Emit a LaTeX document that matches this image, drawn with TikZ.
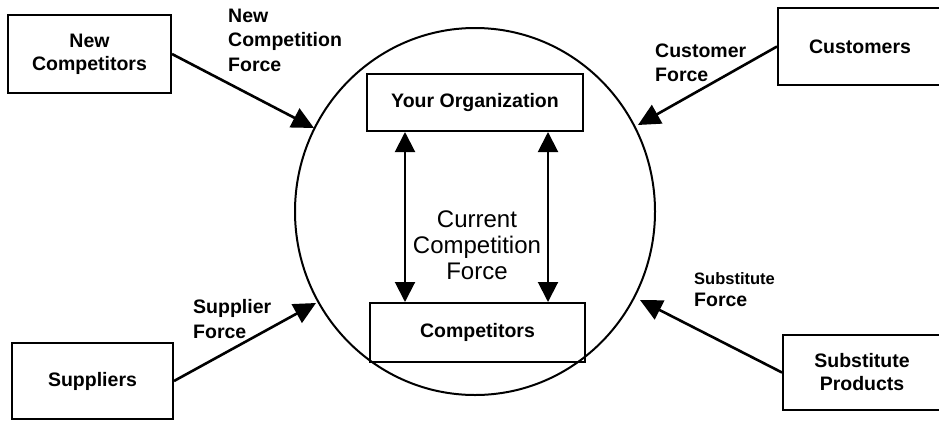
\documentclass[tikz,border=0pt]{standalone}
\usepackage{fontspec}
\setmainfont{Liberation Sans}
\usetikzlibrary{arrows.meta,shapes.geometric}
\begin{document}
\begin{tikzpicture}[x=1pt,y=-1pt,
  boxnode/.style={draw,line width=2pt,rectangle,align=center,inner sep=0pt,
    font=\bfseries\fontsize{19.5}{23}\selectfont},
  lbl/.style={anchor=west,align=left,inner sep=0pt,
    font=\bfseries\fontsize{19.5}{24.5}\selectfont},
  force/.style={line width=2.6pt,-{Triangle[length=22pt,width=21pt]}},
  biarrow/.style={line width=2pt,{Triangle[length=20pt,width=20pt]}-{Triangle[length=20pt,width=20pt]}}]
\useasboundingbox (0,0) rectangle (939,421);
\clip (0,0) rectangle (939,421);
% ring
\node[draw,line width=2pt,ellipse,minimum width=360pt,minimum height=367pt,inner sep=0pt] (ring) at (475,211.5) {};
% inner boxes
\node[boxnode,minimum width=216pt,minimum height=57pt] (org) at (475,102.5) {Your Organization};
\node[boxnode,minimum width=215pt,minimum height=59pt] (comp) at (477.5,332.5) {Competitors};
% outer boxes
\node[boxnode,minimum width=163pt,minimum height=78pt] (newc) at (89.5,54) {New\\Competitors};
\node[boxnode,minimum width=164pt,minimum height=77pt] (cust) at (860,46.5) {Customers};
\node[boxnode,minimum width=161pt,minimum height=76pt] (supp) at (92.5,381) {Suppliers};
\node[boxnode,minimum width=158pt,minimum height=75pt] (subs) at (862,372.5) {Substitute\\Products};
% labels
\node[lbl] (ncf) at (228,40) {New\\Competition\\Force};
\node[lbl] (cf) at (655,63) {Customer\\Force};
\node[lbl] (sf) at (193,319) {Supplier\\Force};
\node[lbl,font=\bfseries\fontsize{16.5}{22}\selectfont] (subf) at (694,290) {Substitute\\{\fontsize{19.5}{22}\selectfont Force}};
\node[align=center,inner sep=0pt,font=\fontsize{24}{26}\selectfont] (ccf) at (477,245) {Current\\Competition\\Force};
% tips on the ring
\coordinate (tnw) at (314,128);
\coordinate (tne) at (638,125);
\coordinate (tsw) at (316,303);
\coordinate (tse) at (640,300);
% force arrows
\draw[force] (newc.east) -- (tnw);
\draw[force] (cust.west) -- (tne);
\draw[force] (supp.east) -- (tsw);
\draw[force] (subs.west) -- (tse);
% inner arrows
\coordinate (la) at (405,0);
\coordinate (ra) at (548,0);
\draw[biarrow] (org.south -| la) -- (comp.north -| la);
\draw[biarrow] (org.south -| ra) -- (comp.north -| ra);
\end{tikzpicture}
\end{document}
